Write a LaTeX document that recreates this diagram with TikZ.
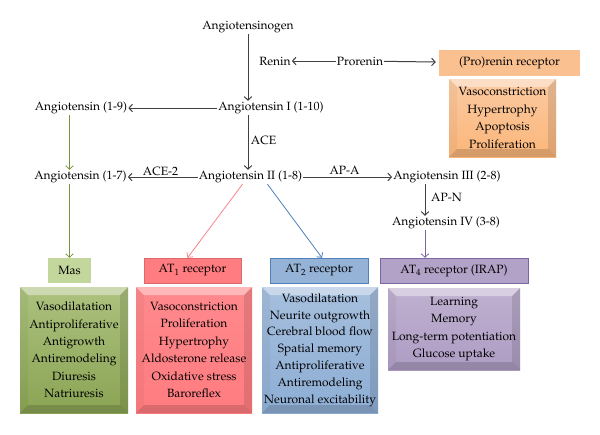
\documentclass[tikz,border=0pt]{standalone}
\usepackage[T1]{fontenc}
\usepackage{mathpazo}
\usetikzlibrary{arrows.meta}

\definecolor{arrgray}{HTML}{404040}
\definecolor{grnarr}{HTML}{77933C}
\definecolor{redarr}{HTML}{F7868A}
\definecolor{bluarr}{HTML}{4F81BD}
\definecolor{purarr}{HTML}{7E64A0}
\definecolor{orrec}{HTML}{FAC090}
\definecolor{grnrec}{HTML}{C3D69B}
\definecolor{redrec}{HTML}{FF7C80}
\definecolor{blurec}{HTML}{95B3D7}
\definecolor{purrec}{HTML}{B3A2C7}

\tikzset{
  arr/.style={draw=arrgray, line width=1pt, -{Straight Barb[length=3.5pt,width=7.5pt]}},
  carr/.style={arr, line width=.8pt},
  lbl/.style={inner sep=1pt, font=\fontsize{12}{14}\selectfont},
  rec/.style={inner sep=0pt, minimum height=25pt, font=\fontsize{12}{14}\selectfont},
  bevel/.style={path picture={
    \coordinate (nw) at (path picture bounding box.north west);
    \coordinate (ne) at (path picture bounding box.north east);
    \coordinate (sw) at (path picture bounding box.south west);
    \coordinate (se) at (path picture bounding box.south east);
    \fill[white, fill opacity=.4] (nw) -- (ne) -- ([shift={(-8pt,-8pt)}]ne) -- ([shift={(8pt,-8pt)}]nw) -- cycle;
    \fill[black, fill opacity=.04] (nw) -- ([shift={(8pt,-8pt)}]nw) -- ([shift={(8pt,8pt)}]sw) -- (sw) -- cycle;
    \fill[black, fill opacity=.11] (ne) -- ([shift={(-8pt,-8pt)}]ne) -- ([shift={(-8pt,8pt)}]se) -- (se) -- cycle;
    \fill[black, fill opacity=.15] (sw) -- ([shift={(8pt,8pt)}]sw) -- ([shift={(-8pt,8pt)}]se) -- (se) -- cycle;
  }},
  eff/.style={inner sep=0pt, align=center, font=\fontsize{12}{17.4}\selectfont, bevel},
}

\begin{document}
\begin{tikzpicture}[x=1pt, y=-1pt]
\useasboundingbox[fill=white] (0,0) rectangle (600,434);

% cascade
\node[lbl] (agen) at (248,27) {Angiotensinogen};
\node[lbl] (renin) at (275,61) {Renin};
\node[lbl] (pro) at (360,61) {Prorenin};
\node[lbl] (ang1) at (271,108) {Angiotensin I (1-10)};
\node[lbl] (ang9) at (81,108) {Angiotensin (1-9)};
\node[lbl] (ang2) at (250.5,177) {Angiotensin II (1-8)};
\node[lbl] (ang7) at (80.5,177) {Angiotensin (1-7)};
\node[lbl] (ang3) at (447,177) {Angiotensin III (2-8)};
\node[lbl] (ang4) at (446,223) {Angiotensin IV (3-8)};

% enzymes
\node[lbl] (ace) at (263.5,140) {ACE};
\node[lbl] (ace2) at (160.5,171) {ACE-2};
\node[lbl] (apa) at (344.5,170) {AP-A};
\node[lbl] (apn) at (446.5,197) {AP-N};

% receptors
\node[rec, fill=orrec, minimum width=141pt, minimum height=26pt] (prorec) at (509.5,63) {(Pro)renin receptor};
\node[rec, fill=grnrec, minimum width=43pt] (mas) at (69.5,270.5) {Mas};
\node[rec, fill=redrec, draw=redrec!85!black, minimum width=97pt] (at1) at (192.5,270.5) {AT\textsubscript{1} receptor};
\node[rec, fill=blurec, draw=bluarr, minimum width=98pt] (at2) at (319,270.5) {AT\textsubscript{2} receptor};
\node[rec, fill=purrec, draw=purarr, minimum width=148pt] (at4) at (454,270.5) {AT\textsubscript{4} receptor (IRAP)};

% effects
\node[eff, top color=orrec!85!white, bottom color=orrec!85!orange, minimum width=107pt, minimum height=78pt] (proeff) at (502.5,118)
  {Vasoconstriction\\Hypertrophy\\Apoptosis\\Proliferation};
\node[eff, top color=grnrec!70!grnarr, bottom color=grnarr!75!grnrec, minimum width=108pt, minimum height=126pt] (maseff) at (74,350)
  {Vasodilatation\\Antiproliferative\\Antigrowth\\Antiremodeling\\Diuresis\\Natriuresis};
\node[eff, top color=redrec!90!white, bottom color=redrec, minimum width=116pt, minimum height=126pt] (at1eff) at (194,350)
  {Vasoconstriction\\Proliferation\\Hypertrophy\\Aldosterone release\\Oxidative stress\\Baroreflex};
\node[eff, font=\fontsize{12}{16.8}\selectfont, top color=blurec!85!white, bottom color=blurec!90!bluarr, minimum width=116pt, minimum height=126pt] (at2eff) at (320,350)
  {Vasodilatation\\Neurite outgrowth\\Cerebral blood flow\\Spatial memory\\Antiproliferative\\Antiremodeling\\Neuronal excitability};
\node[eff, top color=purrec!85!white, bottom color=purrec!92!purarr, minimum width=132pt, minimum height=82pt] (at4eff) at (454,329)
  {Learning\\Memory\\Long-term potentiation\\Glucose uptake};

\coordinate (ivx) at ([xshift=-21pt]ang4.south);
\coordinate (iiix) at ([xshift=-22pt]ang3.south);

\path[arr] (agen) -- (agen |- ang1.north);
\path[arr] (pro) -- (renin);
\path[arr, shorten >=3pt] (pro) -- (prorec);
\path[arr] (ang1) -- (ang9);
\path[arr] (agen |- ang1.south) -- (agen |- ang2.north);
\path[arr] (ang2) -- (ang7);
\path[arr] (ang2) -- (ang3);
\path[arr] (iiix) -- (iiix |- ang4.north);
\path[carr, draw=purarr] (ivx) -- (ivx |- at4.north);
\path[carr, draw=grnarr] (mas |- ang9.south) -- (mas |- ang7.north);
\path[carr, draw=grnarr] (mas |- ang7.south) -- (mas);
\path[carr, draw=redarr] ([xshift=-8pt]ang2.south) -- ([xshift=-5pt]at1.north);
\path[carr, draw=bluarr] ([xshift=17pt]ang2.south) -- ([xshift=3pt]at2.north);
\end{tikzpicture}
\end{document}
